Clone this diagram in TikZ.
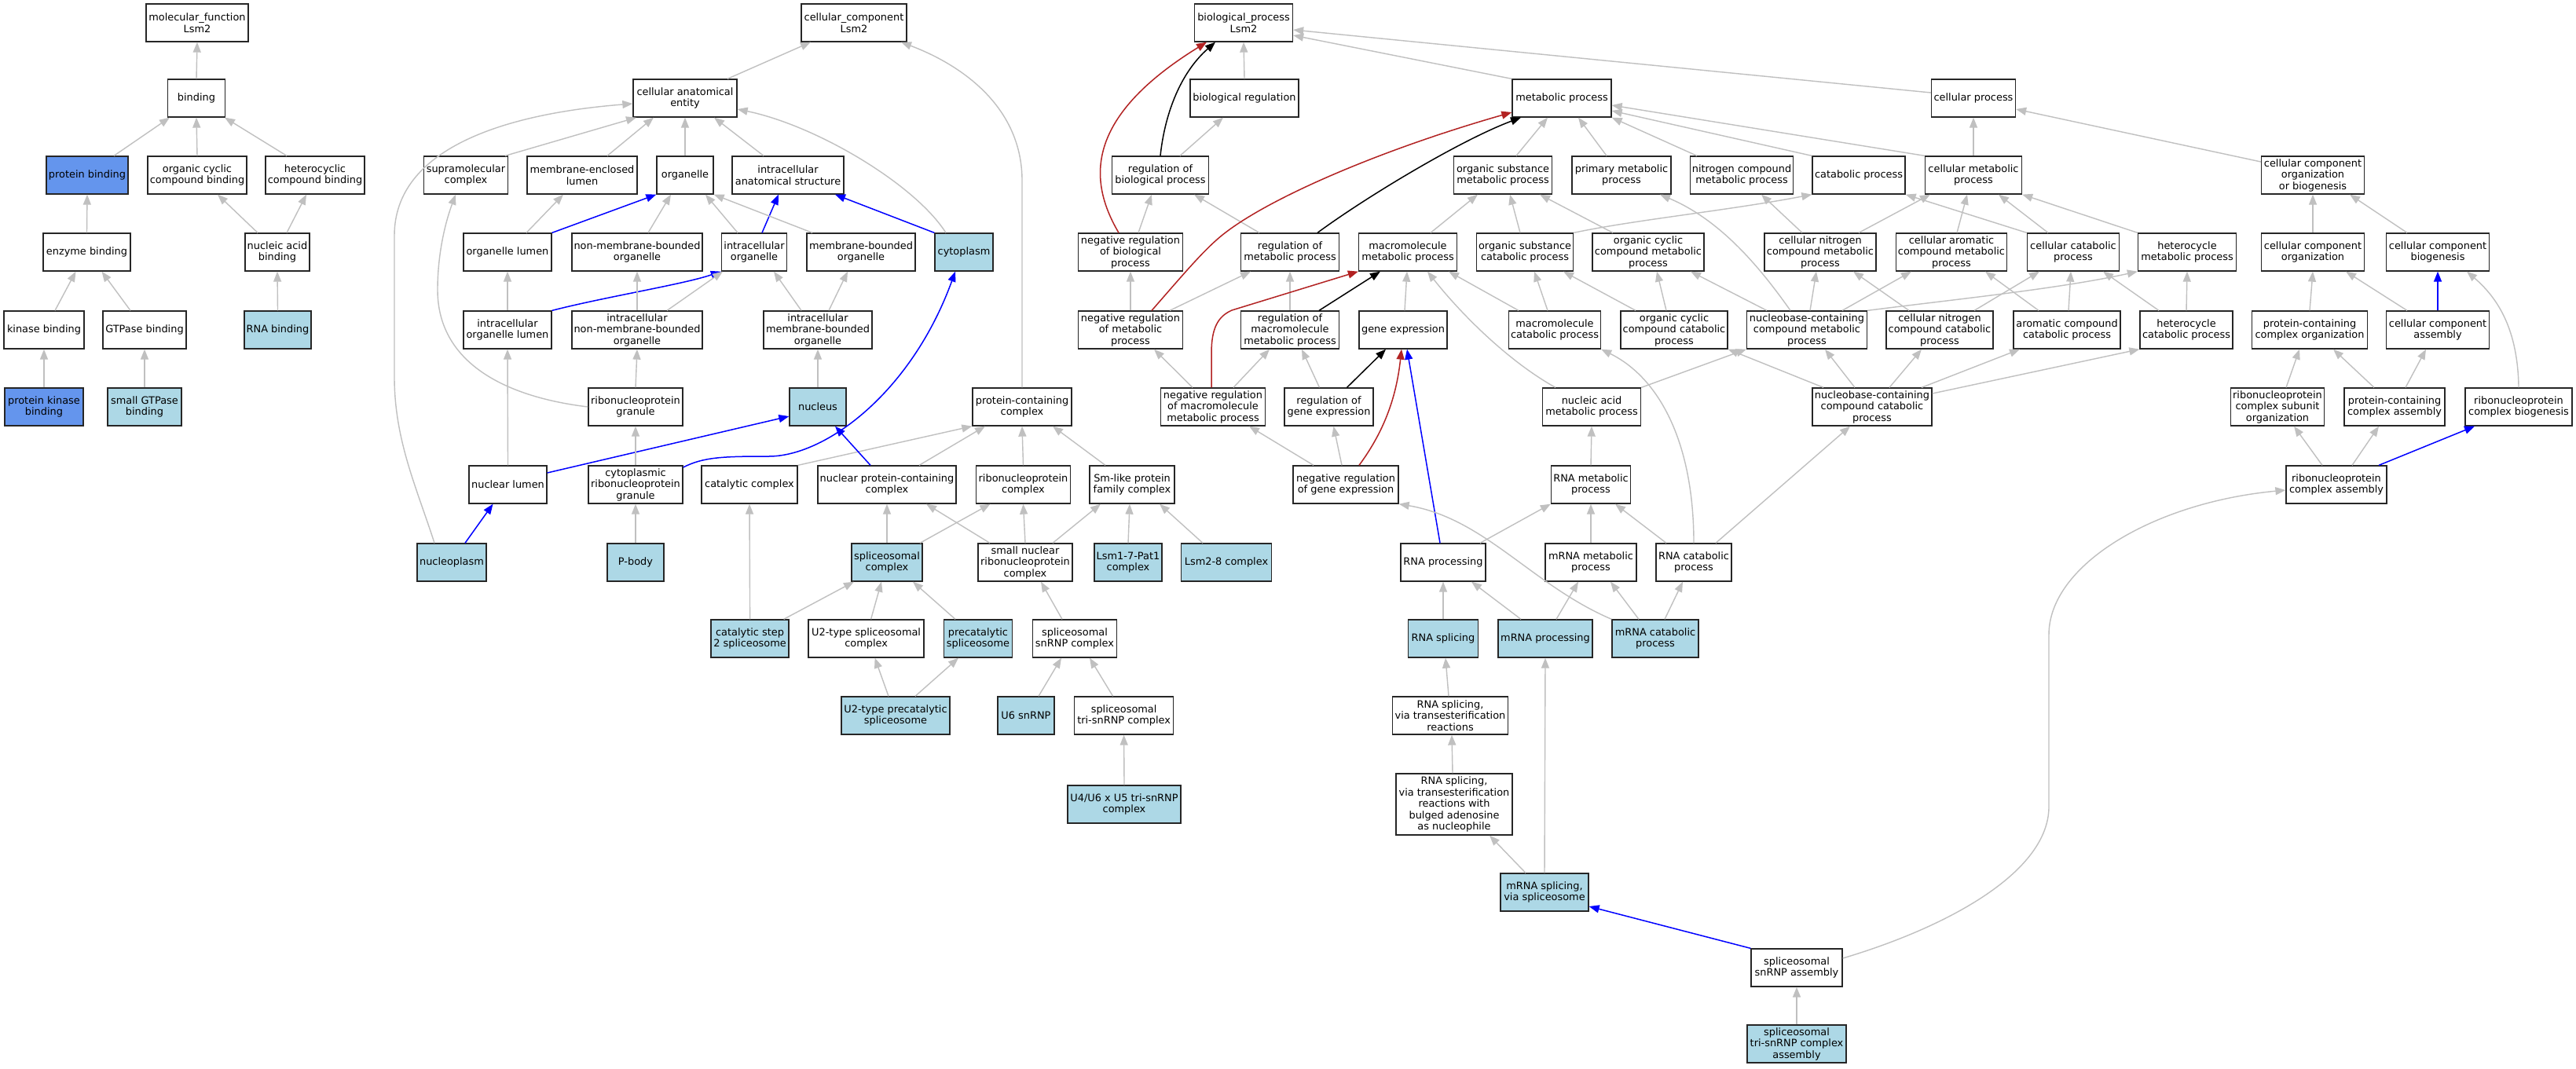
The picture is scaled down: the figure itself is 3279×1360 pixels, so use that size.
\documentclass[tikz,border=0pt]{standalone}
\usepackage{fontspec}
\newfontfamily\gofont{DejaVu Sans}
\usetikzlibrary{arrows.meta}
\definecolor{edgegray}{HTML}{C0C0C0}
\definecolor{lblue}{HTML}{ADD8E6}
\definecolor{cblue}{HTML}{6495ED}
\definecolor{fbrick}{HTML}{B22222}
\newcommand\lnk[5][gedge]{\draw[#1] ([xshift=#3pt]#2.north) -- ([xshift=#5pt]#4.south);}
\tikzset{
 box/.style={draw=black!85, line width=1.3pt, rectangle, minimum height=48pt, inner sep=1pt, align=center, fill=white, font={\gofont\fontsize{12.9pt}{14.5pt}\selectfont}},
 hit/.style={box, fill=lblue},
 hitc/.style={box, fill=cblue},
 tip/.style={-{Triangle[length=13pt,width=10pt]}},
 gedge/.style={draw=edgegray, line width=1.4pt, tip},
 bedge/.style={draw=blue, line width=1.5pt, tip},
 kedge/.style={draw=black, line width=1.5pt, tip},
 redge/.style={draw=fbrick, line width=1.5pt, tip},
}
\begin{document}
\begin{tikzpicture}[x=1pt,y=-1pt]
\useasboundingbox[fill=white] (0,0) rectangle (3279,1360);
% ---------- molecular function ----------
\node[box, minimum width=130pt] (mf) at (251,29) {molecular\_function\\Lsm2};
\node[box, minimum width=73pt] (binding) at (250,125) {binding};
\node[hitc, minimum width=104pt] (protbind) at (111,223) {protein binding};
\node[box, minimum width=126pt] (occb) at (251,223) {organic cyclic\\compound binding};
\node[box, minimum width=126pt] (hcb) at (401,223) {heterocyclic\\compound binding};
\node[box, minimum width=111pt] (enzb) at (110.5,321) {enzyme binding};
\node[box, minimum width=82pt] (nab) at (353,321) {nucleic acid\\binding};
\node[box, minimum width=102pt] (kinb) at (56,420) {kinase binding};
\node[box, minimum width=106pt] (gtpb) at (184,420) {GTPase binding};
\node[hit, minimum width=85pt] (rnab) at (353.5,420) {RNA binding};
\node[hitc, minimum width=100pt] (pkb) at (56,518) {protein kinase\\binding};
\node[hit, minimum width=94pt] (sgtpb) at (184,518) {small GTPase\\binding};
% ---------- cellular component ----------
\node[box, minimum width=134pt] (cc) at (1087,29) {cellular\_component\\Lsm2};
\node[box, minimum width=132pt] (cae) at (872,125) {cellular anatomical\\entity};
\node[box, minimum width=107pt] (supra) at (593,223) {supramolecular\\complex};
\node[box, minimum width=140pt] (mel) at (741,223) {membrane-enclosed\\lumen};
\node[box, minimum width=72pt] (organelle) at (872,223) {organelle};
\node[box, minimum width=142pt] (ias) at (1003,223) {intracellular\\anatomical structure};
\node[box, minimum width=112pt] (ol) at (646,321) {organelle lumen};
\node[box, minimum width=166pt] (nmbo) at (811,321) {non-membrane-bounded\\organelle};
\node[box, minimum width=83pt] (io) at (960,321) {intracellular\\organelle};
\node[box, minimum width=138pt] (mbo) at (1096,321) {membrane-bounded\\organelle};
\node[hit, minimum width=74pt] (cyto) at (1227,321) {cytoplasm};
\node[box, minimum width=112pt] (iol) at (646,420) {intracellular\\organelle lumen};
\node[box, minimum width=166pt] (inmbo) at (811,420) {intracellular\\non-membrane-bounded\\organelle};
\node[box, minimum width=138pt] (imbo) at (1041,420) {intracellular\\membrane-bounded\\organelle};
\node[box, minimum width=120pt] (rnpg) at (809,518) {ribonucleoprotein\\granule};
\node[hit, minimum width=72pt] (nucleus) at (1041,518) {nucleus};
\node[box, minimum width=126pt] (pcc) at (1301,518) {protein-containing\\complex};
\node[box, minimum width=99pt] (nl) at (646.5,617) {nuclear lumen};
\node[box, minimum width=120pt] (crnpg) at (809,617) {cytoplasmic\\ribonucleoprotein\\granule};
\node[box, minimum width=122pt] (catc) at (954,617) {catalytic complex};
\node[box, minimum width=176pt] (npcc) at (1129,617) {nuclear protein-containing\\complex};
\node[box, minimum width=120pt] (rnpc) at (1302.5,617) {ribonucleoprotein\\complex};
\node[box, minimum width=108pt] (smlike) at (1441,617) {Sm-like protein\\family complex};
\node[hit, minimum width=88pt] (nucleoplasm) at (575,716) {nucleoplasm};
\node[hit, minimum width=72pt] (pbody) at (809,716) {P-body};
\node[hit, minimum width=90pt] (splc) at (1129,716) {spliceosomal\\complex};
\node[box, minimum width=120pt] (snrnp) at (1305,716) {small nuclear\\ribonucleoprotein\\complex};
\node[hit, minimum width=86pt] (lsm17) at (1436,716) {Lsm1-7-Pat1\\complex};
\node[hit, minimum width=115pt] (lsm28) at (1561,716) {Lsm2-8 complex};
\node[hit, minimum width=99pt] (cs2) at (954.6,813) {catalytic step\\2 spliceosome};
\node[box, minimum width=147pt] (u2c) at (1102.6,813) {U2-type spliceosomal\\complex};
\node[hit, minimum width=87pt] (precat) at (1245,813) {precatalytic\\spliceosome};
\node[box, minimum width=107pt] (ssnrnpc) at (1368,813) {spliceosomal\\snRNP complex};
\node[hit, minimum width=138pt] (u2pre) at (1140,911) {U2-type precatalytic\\spliceosome};
\node[hit, minimum width=72pt] (u6) at (1306,911) {U6 snRNP};
\node[box, minimum width=126pt] (trisnrnp) at (1430.6,911) {spliceosomal\\tri-snRNP complex};
\node[hit, minimum width=144pt] (u4u6) at (1431,1024) {U4/U6 x U5 tri-snRNP\\complex};
% ---------- biological process ----------
\node[box, minimum width=125pt] (bp) at (1583,29) {biological\_process\\Lsm2};
\node[box, minimum width=138pt] (breg) at (1584,125) {biological regulation};
\node[box, minimum width=126pt] (mp) at (1988,125) {metabolic process};
\node[box, minimum width=107pt] (cp) at (2512,125) {cellular process};
\node[box, minimum width=123pt] (rbp) at (1477,223) {regulation of\\biological process};
\node[box, minimum width=125pt] (osmp) at (1913,223) {organic substance\\metabolic process};
\node[box, minimum width=126pt] (pmp) at (2064,223) {primary metabolic\\process};
\node[box, minimum width=131pt] (ncmp) at (2217,223) {nitrogen compound\\metabolic process};
\node[box, minimum width=118pt] (catp) at (2366,223) {catabolic process};
\node[box, minimum width=123pt] (cmp) at (2512,223) {cellular metabolic\\process};
\node[box, minimum width=131pt] (ccoob) at (2944,223) {cellular component\\organization\\or biogenesis};
\node[box, minimum width=133pt] (nrbp) at (1439,321) {negative regulation\\of biological\\process};
\node[box, minimum width=125pt] (rmp) at (1642,321) {regulation of\\metabolic process};
\node[box, minimum width=125pt] (mmp) at (1792,321) {macromolecule\\metabolic process};
\node[box, minimum width=123pt] (oscp) at (1941,321) {organic substance\\catabolic process};
\node[box, minimum width=142pt] (occmp) at (2098,321) {organic cyclic\\compound metabolic\\process};
\node[box, minimum width=142pt] (cncmp) at (2317,321) {cellular nitrogen\\compound metabolic\\process};
\node[box, minimum width=141pt] (cacmp) at (2484,321) {cellular aromatic\\compound metabolic\\process};
\node[box, minimum width=117pt] (ccp) at (2639,321) {cellular catabolic\\process};
\node[box, minimum width=125pt] (hmp) at (2784,321) {heterocycle\\metabolic process};
\node[box, minimum width=131pt] (cco) at (2944,321) {cellular component\\organization};
\node[box, minimum width=131pt] (ccb) at (3103,321) {cellular component\\biogenesis};
\node[box, minimum width=133pt] (nrmp) at (1439,420) {negative regulation\\of metabolic\\process};
\node[box, minimum width=125pt] (rmmp) at (1642,420) {regulation of\\macromolecule\\metabolic process};
\node[box, minimum width=112pt] (ge) at (1786,420) {gene expression};
\node[box, minimum width=117pt] (mcp) at (1979,420) {macromolecule\\catabolic process};
\node[box, minimum width=136pt] (occcp) at (2131,420) {organic cyclic\\compound catabolic\\process};
\node[box, minimum width=153pt] (nbcmp) at (2300,420) {nucleobase-containing\\compound metabolic\\process};
\node[box, minimum width=136pt] (cnccp) at (2469,420) {cellular nitrogen\\compound catabolic\\process};
\node[box, minimum width=136pt] (accp) at (2631,420) {aromatic compound\\catabolic process};
\node[box, minimum width=118pt] (hcp) at (2783,420) {heterocycle\\catabolic process};
\node[box, minimum width=147pt] (pcco) at (2940,420) {protein-containing\\complex organization};
\node[box, minimum width=131pt] (cca) at (3103,420) {cellular component\\assembly};
\node[box, minimum width=133pt] (nrmmp) at (1544,518) {negative regulation\\of macromolecule\\metabolic process};
\node[box, minimum width=113pt] (rge) at (1691.5,518) {regulation of\\gene expression};
\node[box, minimum width=125pt] (namp) at (2026,518) {nucleic acid\\metabolic process};
\node[box, minimum width=152pt] (nbccp) at (2383,518) {nucleobase-containing\\compound catabolic\\process};
\node[box, minimum width=119pt] (rnpcso) at (2899,518) {ribonucleoprotein\\complex subunit\\organization};
\node[box, minimum width=128pt] (pcca) at (3048,518) {protein-containing\\complex assembly};
\node[box, minimum width=136pt] (rnpcb) at (3206,518) {ribonucleoprotein\\complex biogenesis};
\node[box, minimum width=134pt] (nrge) at (1713,617) {negative regulation\\of gene expression};
\node[box, minimum width=101pt] (rnamp) at (2025,617) {RNA metabolic\\process};
\node[box, minimum width=128pt] (rnpca) at (2974,617) {ribonucleoprotein\\complex assembly};
\node[box, minimum width=108pt] (rnaproc) at (1837,716) {RNA processing};
\node[box, minimum width=116pt] (mrnamp) at (2025,716) {mRNA metabolic\\process};
\node[box, minimum width=96pt] (rnacp) at (2156,716) {RNA catabolic\\process};
\node[hit, minimum width=89pt] (rnasp) at (1837,813) {RNA splicing};
\node[hit, minimum width=120pt] (mrnaproc) at (1967,813) {mRNA processing};
\node[hit, minimum width=110pt] (mrnacp) at (2107,813) {mRNA catabolic\\process};
\node[box, minimum width=147pt] (rst) at (1846,911) {RNA splicing,\\via transesterification\\reactions};
\node[box, minimum width=148pt, minimum height=78pt] (rstb) at (1851,1024) {RNA splicing,\\via transesterification\\reactions with\\bulged adenosine\\as nucleophile};
\node[hit, minimum width=112pt] (mrnass) at (1966,1136) {mRNA splicing,\\via spliceosome};
\node[box, minimum width=116pt] (ssa) at (2287,1232) {spliceosomal\\snRNP assembly};
\node[hit, minimum width=126pt] (tsa) at (2287,1329) {spliceosomal\\tri-snRNP complex\\assembly};
% ---------- edges: molecular function ----------
\lnk{binding}{0}{mf}{0}
\lnk{protbind}{34}{binding}{-34}
\lnk{occb}{0}{binding}{0}
\lnk{hcb}{-36}{binding}{36}
\lnk{enzb}{0}{protbind}{0}
\lnk{nab}{-25}{occb}{26}
\lnk{nab}{12}{hcb}{-11}
\lnk{kinb}{14}{enzb}{-14}
\lnk{gtpb}{-18}{enzb}{19}
\lnk{rnab}{0}{nab}{0}
\lnk{pkb}{0}{kinb}{0}
\lnk{sgtpb}{0}{gtpb}{0}
% ---------- edges: cellular component ----------
\lnk{cae}{54}{cc}{-55}
\draw[gedge] (pcc.north) -- (1301,230) .. controls (1301,140) and (1230,85) .. ([xshift=60]cc.south);
\lnk{supra}{50}{cae}{-62}
\draw[gedge] ([xshift=-22]nucleoplasm.north) .. controls (530,620) and (502,560) .. (502,480) -- (502,300) .. controls (502,190) and (640,145) .. ([yshift=-7]cae.west);
\lnk{mel}{32}{cae}{-40}
\lnk{organelle}{0}{cae}{0}
\lnk{ias}{-31}{cae}{37}
\draw[gedge] ([xshift=-23]cyto.north) .. controls (1165,235) and (1040,160) .. ([yshift=-14]cae.east);
\draw[bedge] (ol.north east) -- (organelle.south west);
\lnk{ol}{24}{mel}{-24}
\lnk{nmbo}{14}{organelle}{-18}
\lnk{io}{-21}{organelle}{26}
\lnk[bedge]{io}{10}{ias}{-12}
\draw[gedge] ([xshift=-62]mbo.north) -- (organelle.south east);
\draw[bedge] (cyto.north west) -- ([xshift=60]ias.south);
\lnk{iol}{0}{ol}{0}
\draw[bedge] (iol.north east) .. controls (770,378) and (870,362) .. (io.south west);
\lnk{inmbo}{0}{nmbo}{0}
\lnk{inmbo}{38}{io}{-40}
\lnk{imbo}{-21}{io}{25}
\lnk{imbo}{14}{mbo}{-17}
\draw[gedge] (rnpg.west) .. controls (640,505) and (557,460) .. (557,369) .. controls (557,320) and (568,280) .. ([xshift=-13]supra.south);
\lnk{rnpg}{0}{inmbo}{0}
\lnk{nucleus}{0}{imbo}{0}
\lnk{nl}{0}{iol}{0}
\draw[bedge] ([yshift=15]nl.east) -- ([yshift=-12]nucleus.west);
\lnk{crnpg}{0}{rnpg}{0}
\draw[bedge] ([yshift=22]crnpg.east) .. controls (895,582) and (920,581) .. (977,581) .. controls (1050,582) and (1160,500) .. ([xshift=-11]cyto.south);
\draw[gedge] (catc.north east) -- (pcc.south west);
\lnk{npcc}{41}{pcc}{-47}
\lnk[bedge]{npcc}{-21}{nucleus}{22}
\lnk{rnpc}{0}{pcc}{0}
\lnk{smlike}{-34}{pcc}{39}
\lnk[bedge]{nucleoplasm}{17}{nl}{-19}
\lnk{pbody}{0}{crnpg}{0}
\lnk{splc}{0}{npcc}{0}
\lnk{splc}{42}{rnpc}{-42}
\lnk{snrnp}{-45}{npcc}{50}
\lnk{snrnp}{0}{rnpc}{0}
\lnk{snrnp}{35}{smlike}{-40}
\lnk{lsm17}{0}{smlike}{-3}
\lnk{lsm28}{-30}{smlike}{35}
\lnk{cs2}{0}{catc}{0}
\lnk{cs2}{43}{splc}{-42}
\lnk{u2c}{6}{splc}{-7}
\lnk{precat}{-29}{splc}{33}
\lnk{ssnrnpc}{-16}{snrnp}{20}
\lnk{u2pre}{-9}{u2c}{11}
\lnk{u2pre}{25}{precat}{-25}
\lnk{u6}{16}{ssnrnpc}{-17}
\lnk{trisnrnp}{-14}{ssnrnpc}{19}
\lnk{u4u6}{0}{trisnrnp}{0}
% ---------- edges: biological process ----------
\lnk{breg}{0}{bp}{0}
\draw[gedge] (mp.north west) -- ([yshift=-16]bp.east);
\draw[gedge] ([yshift=7]cp.west) -- ([yshift=-9]bp.east);
\lnk{rbp}{25}{breg}{-27}
\draw[kedge] (rbp.north) .. controls (1482,150) and (1500,95) .. ([xshift=-36]bp.south);
\draw[redge] ([xshift=-15]nrbp.north) .. controls (1385,230) and (1380,150) .. ([xshift=-47]bp.south);
\lnk{nrbp}{10}{rbp}{-11}
\lnk{rmp}{-39}{rbp}{43}
\draw[kedge] ([xshift=35]rmp.north) .. controls (1740,250) and (1860,178) .. ([xshift=-52]mp.south);
\lnk{nrmp}{0}{nrbp}{0}
\lnk{nrmp}{50}{rmp}{-50}
\draw[redge] ([xshift=27]nrmp.north) .. controls (1510,345) and (1535,315) .. (1560,296) .. controls (1620,250) and (1760,190) .. ([yshift=-18]mp.west);
\lnk{osmp}{17}{mp}{-18}
\lnk{pmp}{-19}{mp}{21}
\draw[gedge] ([xshift=-57]ncmp.north) -- (mp.south east);
\draw[gedge] (catp.north west) -- ([yshift=-16]mp.east);
\draw[gedge] (cmp.north west) -- ([yshift=-9]mp.east);
\lnk{cmp}{0}{cp}{0}
\draw[gedge] ([yshift=17]ccoob.west) -- ([yshift=-14]cp.east);
\lnk{mmp}{29}{osmp}{-32}
\lnk{oscp}{-6}{osmp}{9}
\draw[gedge] (oscp.north east) .. controls (2080,280) and (2200,268) .. (catp.south west);
\lnk{occmp}{-45}{osmp}{47}
\lnk{cncmp}{-23}{ncmp}{25}
\lnk{cncmp}{49}{cmp}{-55}
\lnk{cacmp}{7}{cmp}{-8}
\draw[gedge] (ccp.north west) -- (catp.south east);
\lnk{ccp}{-32}{cmp}{32}
\draw[gedge] (hmp.north west) -- (cmp.south east);
\lnk{cco}{0}{ccoob}{0}
\lnk{ccb}{-39}{ccoob}{47}
\lnk{rmmp}{0}{rmp}{0}
\lnk[kedge]{rmmp}{37}{mmp}{-35}
\lnk{ge}{2}{mmp}{-1}
\lnk{mcp}{-46}{mmp}{52}
\lnk{mcp}{-9}{oscp}{12}
\lnk{occcp}{-49}{oscp}{49}
\lnk{occcp}{-10}{occmp}{11}
\lnk{nbcmp}{-51}{occmp}{54}
\lnk{nbcmp}{4}{cncmp}{-5}
\lnk{nbcmp}{45}{cacmp}{-51}
\draw[gedge] (nbcmp.north east) .. controls (2480,382) and (2620,368) .. (hmp.south west);
\draw[gedge] ([xshift=-21]nbcmp.north) .. controls (2240,340) and (2190,280) .. ([xshift=49]pmp.south);
\lnk{cnccp}{-39}{cncmp}{42}
\lnk{cnccp}{44}{ccp}{-43}
\lnk{accp}{-36}{cacmp}{43}
\lnk{accp}{2}{ccp}{-3}
\lnk{hcp}{-35}{ccp}{38}
\lnk{hcp}{0}{hmp}{0}
\lnk{pcco}{0}{cco}{0}
\lnk{cca}{-39}{cco}{42}
\lnk[bedge]{cca}{0}{ccb}{0}
\lnk{rge}{-12}{rmmp}{15}
\lnk[kedge]{rge}{23}{ge}{-22}
\lnk{nrmmp}{-26}{nrmp}{30}
\lnk{nrmmp}{26}{rmmp}{-26}
\draw[redge] ([xshift=-2]nrmmp.north) -- (1542,450) .. controls (1542,418) and (1550,403) .. (1568,395) -- (mmp.south west);
\draw[gedge] ([xshift=-46]namp.north) .. controls (1920,460) and (1860,400) .. ([xshift=25]mmp.south);
\draw[gedge] (namp.north east) -- (nbcmp.south west);
\draw[gedge] ([xshift=-62]nbccp.north) -- (occcp.south east);
\lnk{nbccp}{-22}{nbcmp}{23}
\lnk{nbccp}{22}{cnccp}{-23}
\lnk{nbccp}{63}{accp}{-60}
\draw[gedge] ([yshift=17]nbccp.east) -- (hcp.south west);
\lnk{nrge}{-5}{rge}{6}
\lnk{nrge}{-41}{nrmmp}{46}
\draw[redge] ([xshift=17]nrge.north) .. controls (1765,545) and (1778,500) .. ([xshift=-2]ge.south);
\lnk{rnamp}{0}{namp}{0}
\lnk{rnpcso}{11}{pcco}{-13}
\lnk{pcca}{-26}{pcco}{30}
\lnk{pcca}{14}{cca}{-15}
\draw[gedge] (rnpcb.north) .. controls (3205,420) and (3180,380) .. ([xshift=37]ccb.south);
\lnk{rnpca}{-18}{rnpcso}{21}
\lnk{rnpca}{20}{pcca}{-20}
\lnk[bedge]{rnpca}{54}{rnpcb}{-56}
\lnk[bedge]{rnaproc}{-4}{ge}{5}
\draw[gedge] ([xshift=47]rnaproc.north) -- (rnamp.south west);
\lnk{mrnamp}{0}{rnamp}{0}
\lnk{rnacp}{-35}{rnamp}{31}
\lnk{rnacp}{28}{nbccp}{-28}
\draw[gedge] (rnacp.north) .. controls (2156,560) and (2110,480) .. (mcp.south east);
\lnk{rnasp}{0}{rnaproc}{0}
\lnk{mrnaproc}{-31}{rnaproc}{36}
\lnk{mrnaproc}{14}{mrnamp}{-16}
\lnk{mrnacp}{-21}{mrnamp}{25}
\lnk{mrnacp}{12}{rnacp}{-14}
\draw[gedge] (mrnacp.north west) .. controls (1950,745) and (1890,660) .. (nrge.south east);
\lnk{rst}{-2}{rnasp}{3}
\lnk{rstb}{-2}{rst}{2}
\lnk{mrnass}{-24}{rstb}{45}
\lnk{mrnass}{0}{mrnaproc}{0}
\draw[bedge] (ssa.north west) -- ([yshift=-18]mrnass.east);
\draw[gedge] ([yshift=12]ssa.east) .. controls (2480,1180) and (2608,1110) .. (2608,1027) -- (2608,808) .. controls (2608,720) and (2740,640) .. ([yshift=-7]rnpca.west);
\lnk{tsa}{0}{ssa}{0}
\end{tikzpicture}
\end{document}
